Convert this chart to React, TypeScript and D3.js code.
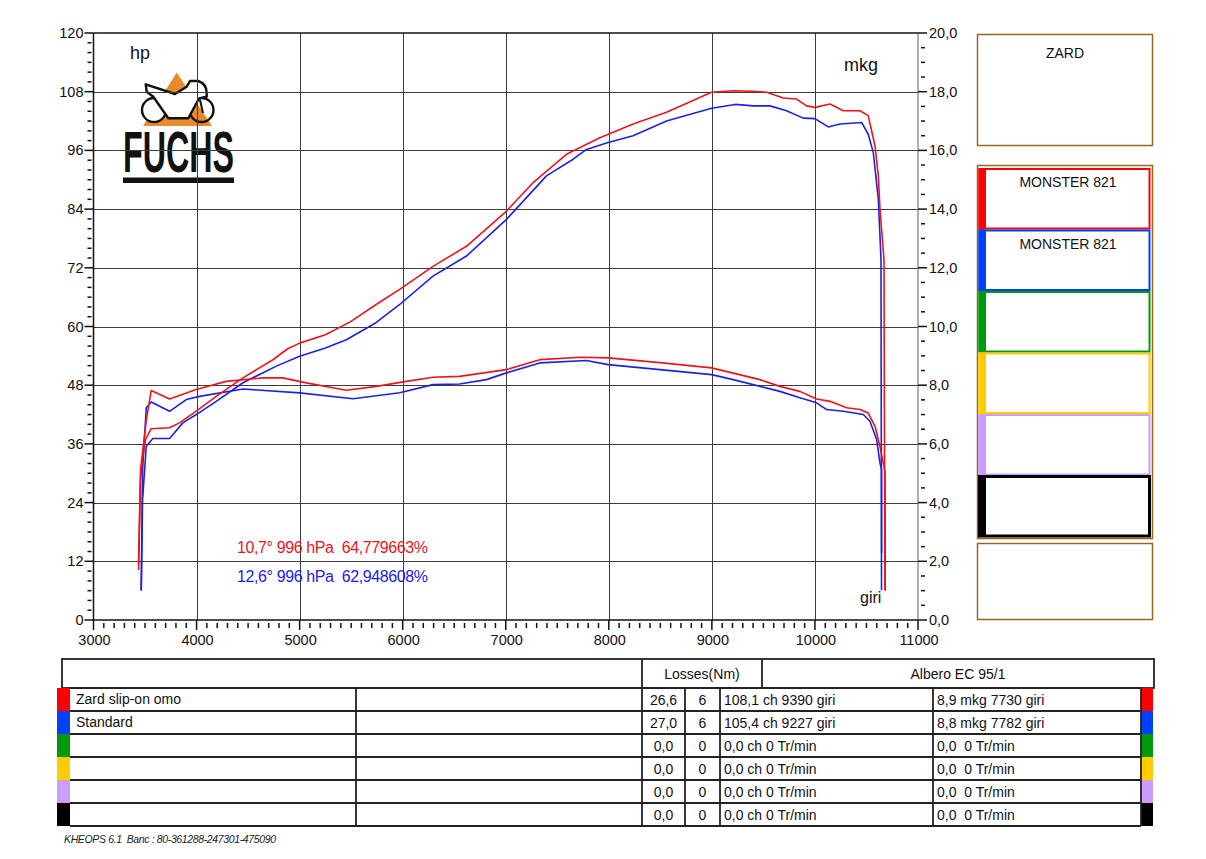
import React from 'react';
import * as d3 from 'd3';

// power curves, [rpm, hp]
const zardPower: [number, number][] = [
  [3437, 10.2], [3456, 28.7], [3479, 33.4], [3505, 36.9], [3560, 39.1], [3738, 39.3],
  [3835, 40.3], [3997, 42.7], [4191, 45.7], [4450, 49.5], [4741, 53.2], [4880, 55.4],
  [5000, 56.6], [5250, 58.3], [5495, 61.0], [5750, 64.6], [5971, 67.6], [6294, 72.3],
  [6619, 76.4], [7007, 83.6], [7265, 89.4], [7589, 95.2], [7913, 98.6], [8236, 101.4],
  [8560, 103.8], [8997, 107.9], [9207, 108.2], [9390, 108.1], [9531, 107.9], [9692, 106.7],
  [9822, 106.5], [9919, 105.1], [10000, 104.8], [10146, 105.5], [10275, 104.1],
  [10437, 104.1], [10517, 103.1], [10583, 96.9], [10615, 90.8], [10631, 84.0],
  [10670, 73.7], [10675, 34.8], [10680, 6.1],
];
const standardPower: [number, number][] = [
  [3463, 6.1], [3476, 24.6], [3512, 35.5], [3576, 37.1], [3738, 37.1], [3867, 40.3],
  [3997, 42.0], [4191, 44.7], [4450, 48.5], [4774, 51.9], [5000, 53.9], [5250, 55.6],
  [5453, 57.3], [5728, 60.6], [5971, 64.5], [6294, 70.3], [6619, 74.4], [7007, 81.9],
  [7395, 90.8], [7654, 94.2], [7783, 96.2], [7993, 97.6], [8236, 99.0], [8560, 102.0],
  [8997, 104.6], [9227, 105.4], [9401, 105.1], [9563, 105.1], [9725, 104.1], [9886, 102.6],
  [10000, 102.5], [10129, 100.8], [10243, 101.4], [10454, 101.7], [10517, 99.3],
  [10566, 95.6], [10615, 86.0], [10641, 73.7], [10646, 6.1],
];

// torque curves, [rpm, mkg]
const zardTorque: [number, number][] = [
  [3437, 1.9], [3456, 5.1], [3512, 6.8], [3560, 7.82], [3738, 7.53], [3997, 7.85],
  [4288, 8.13], [4644, 8.25], [4838, 8.25], [5065, 8.08], [5453, 7.83], [5745, 7.96],
  [6036, 8.13], [6294, 8.27], [6553, 8.3], [7007, 8.53], [7330, 8.87], [7730, 8.95],
  [7993, 8.93], [8495, 8.77], [8997, 8.59], [9466, 8.19], [9660, 7.96], [9854, 7.79],
  [10016, 7.53], [10146, 7.45], [10308, 7.23], [10437, 7.17], [10517, 7.05],
  [10583, 6.6], [10631, 5.91], [10680, 5.06], [10682, 1.0],
];
const standardTorque: [number, number][] = [
  [3463, 1.0], [3476, 5.1], [3512, 7.23], [3560, 7.43], [3738, 7.11], [3900, 7.51],
  [4029, 7.62], [4450, 7.87], [5000, 7.74], [5518, 7.54], [5971, 7.74], [6294, 8.02],
  [6553, 8.04], [6812, 8.19], [7007, 8.42], [7330, 8.76], [7782, 8.84], [7993, 8.7],
  [8495, 8.53], [8997, 8.36], [9207, 8.19], [9660, 7.79], [9854, 7.57], [10016, 7.4],
  [10113, 7.17], [10275, 7.11], [10469, 7.0], [10534, 6.77], [10599, 6.14],
  [10631, 5.35], [10647, 5.12], [10647, 2.28],
];

const rpmTicks = [3000, 4000, 5000, 6000, 7000, 8000, 9000, 10000, 11000];
const hpTicks = [0, 12, 24, 36, 48, 60, 72, 84, 96, 108, 120];
const mkgTicks = [0, 2, 4, 6, 8, 10, 12, 14, 16, 18, 20];

const rowColors = ['#ff0000', '#0040ff', '#009a10', '#ffcc00', '#cc9cff', '#000000'];
const legendNames = ['MONSTER 821', 'MONSTER 821', '', '', '', ''];
const tableNames = ['Zard slip-on omo', 'Standard', '', '', '', ''];
const tableLosses = ['26,6', '27,0', '0,0', '0,0', '0,0', '0,0'];
const tableGears = ['6', '6', '0', '0', '0', '0'];
const tablePower = ['108,1 ch 9390 giri', '105,4 ch 9227 giri', '0,0 ch 0 Tr/min', '0,0 ch 0 Tr/min', '0,0 ch 0 Tr/min', '0,0 ch 0 Tr/min'];
const tableTorque = ['8,9 mkg 7730 giri', '8,8 mkg 7782 giri', '0,0  0 Tr/min', '0,0  0 Tr/min', '0,0  0 Tr/min', '0,0  0 Tr/min'];

const RED = '#e8161c';
const BLUE = '#1c22e0';
const BROWN = '#9c6422';
const FONT = '"Liberation Sans", Arial, sans-serif';

const App: React.FC = () => {
  const left = 93.5, right = 918, top = 33, bottom = 620;
  const x = d3.scaleLinear().domain([3000, 11000]).range([left, right]);
  const yHp = d3.scaleLinear().domain([0, 120]).range([bottom, top]);
  const yMkg = d3.scaleLinear().domain([0, 20]).range([bottom, top]);

  const hpLine = d3.line<[number, number]>().x(d => x(d[0])).y(d => yHp(d[1]));
  const mkgLine = d3.line<[number, number]>().x(d => x(d[0])).y(d => yMkg(d[1]));

  const rpmMinor = d3.range(3000, 11001, 100).filter(v => v % 1000 !== 0);
  const hpMinor = d3.range(0, 121, 2).filter(v => v % 12 !== 0);
  const mkgMinor = d3.range(0, 20.01, 0.5).filter(v => Math.abs(v / 2 - Math.round(v / 2)) > 0.01);

  const fmt = (v: number) => v.toFixed(1).replace('.', ',');

  // table geometry
  const rowTop = 688, rowH = 23;
  const cols = [70, 356, 642, 685, 720, 933, 1141];

  return (
    <svg width={1206} height={859} style={{ position: 'absolute', left: 0, top: 0, background: '#fff' }} fontFamily={FONT}>
      <rect width={1206} height={859} fill="#fff" />

      {/* logo */}
      <g>
        <polygon points="176.7,72.5 143,126 212,126" fill="#e8892b" />
        <circle cx={154} cy={110} r={12} fill="#fff" stroke="#111" strokeWidth={2.4} />
        <circle cx={201.5} cy={110} r={12} fill="none" stroke="#111" strokeWidth={2.4} />
        <path d="M145.7,84.3 L175,94 L186.7,86.7 L190,81 L198.3,81 Q206.7,84 206.7,93 L206.7,96.7 L199,98.5 L188.3,118.3 L168.3,118.3 L153.3,96.7 L146.7,91.7 Z"
          fill="#fff" stroke="#111" strokeWidth={2.4} strokeLinejoin="round" />
        <line x1={200} y1={100} x2={203} y2={113} stroke="#111" strokeWidth={2} />
        <text x={123} y={172} fontSize={58} fontWeight={900} fill="#111" textLength={111} lengthAdjust="spacingAndGlyphs"
          fontFamily='"Liberation Sans Narrow", "Liberation Sans", sans-serif'>FUCHS</text>
        <rect x={123} y={177.5} width={111} height={5.5} fill="#111" />
      </g>

      {/* grid */}
      <g stroke="#3c3c3c" strokeWidth={1}>
        {rpmTicks.slice(1, -1).map(v => (
          <line key={'gx' + v} x1={Math.round(x(v)) + 0.5} x2={Math.round(x(v)) + 0.5} y1={top} y2={bottom} />
        ))}
        {hpTicks.slice(1, -1).map(v => (
          <line key={'gy' + v} x1={left} x2={right} y1={Math.round(yHp(v)) + 0.5} y2={Math.round(yHp(v)) + 0.5} />
        ))}
      </g>

      {/* frame */}
      <g stroke="#111" strokeWidth={1.5} fill="none">
        <line x1={left} x2={right} y1={top} y2={top} />
        <line x1={left} x2={left} y1={top} y2={bottom} />
        <line x1={left} x2={right} y1={bottom} y2={bottom} />
      </g>
      <line x1={right} x2={right} y1={top} y2={bottom} stroke="#777" strokeWidth={1.2} />

      {/* left axis */}
      <g stroke="#111" strokeWidth={1.5}>
        {hpTicks.map(v => <line key={'lt' + v} x1={left - 9} x2={left} y1={yHp(v)} y2={yHp(v)} />)}
        {hpMinor.map(v => <line key={'lm' + v} x1={left - 6} x2={left - 2} y1={yHp(v)} y2={yHp(v)} />)}
      </g>
      <g fontSize={14.5} fill="#111" textAnchor="end">
        {hpTicks.map(v => <text key={'ll' + v} x={left - 10} y={yHp(v) + 5}>{v}</text>)}
      </g>

      {/* right axis */}
      <g stroke="#111" strokeWidth={1.5}>
        {mkgTicks.map(v => <line key={'rt' + v} x1={right} x2={right + 9} y1={yMkg(v)} y2={yMkg(v)} />)}
        {mkgMinor.map(v => <line key={'rm' + v} x1={right + 3} x2={right + 7} y1={yMkg(v)} y2={yMkg(v)} />)}
      </g>
      <g fontSize={14.5} fill="#111">
        {mkgTicks.map(v => <text key={'rl' + v} x={right + 11} y={yMkg(v) + 5}>{fmt(v)}</text>)}
      </g>

      {/* x axis */}
      <g stroke="#111" strokeWidth={1.5}>
        {rpmTicks.map(v => <line key={'xt' + v} x1={x(v)} x2={x(v)} y1={bottom} y2={bottom + 10} />)}
        {rpmMinor.map(v => <line key={'xm' + v} x1={x(v)} x2={x(v)} y1={bottom + 3} y2={bottom + 8} />)}
      </g>
      <g fontSize={14.5} fill="#111" textAnchor="middle">
        {rpmTicks.map(v => <text key={'xl' + v} x={x(v) + 1} y={bottom + 25}>{v}</text>)}
      </g>

      {/* unit labels */}
      <text x={130} y={59} fontSize={18} fill="#111">hp</text>
      <text x={844} y={71} fontSize={18} fill="#111">mkg</text>
      <text x={860} y={603} fontSize={16} fill="#111">giri</text>

      {/* curves */}
      <g fill="none" strokeWidth={1.6} strokeLinejoin="round">
        <path d={hpLine(standardPower) ?? ''} stroke={BLUE} />
        <path d={mkgLine(standardTorque) ?? ''} stroke={BLUE} />
        <path d={hpLine(zardPower) ?? ''} stroke={RED} />
        <path d={mkgLine(zardTorque) ?? ''} stroke={RED} />
      </g>

      {/* conditions */}
      <text x={237} y={553} fontSize={16} fill={RED} style={{ whiteSpace: 'pre' }} textLength={191}>10,7° 996 hPa  64,779663%</text>
      <text x={237} y={582} fontSize={16} fill={BLUE} style={{ whiteSpace: 'pre' }} textLength={191}>12,6° 996 hPa  62,948608%</text>

      {/* right panel */}
      <rect x={977.5} y={34.5} width={175} height={111} fill="#fff" stroke={BROWN} strokeWidth={1.5} />
      <text x={1065} y={58} fontSize={14} textAnchor="middle" fill="#111">ZARD</text>
      <rect x={977.5} y={165.5} width={175} height={373} fill="#fff" stroke={BROWN} strokeWidth={1.5} />
      {rowColors.map((c, i) => {
        const y0 = 168 + i * 61.5;
        return (
          <g key={'leg' + i}>
            <rect x={979.5} y={y0 + 1} width={170} height={59.5} fill="#fff" stroke={c} strokeWidth={i === 5 ? 3 : 2} />
            <rect x={978.5} y={y0} width={7.5} height={61.5} fill={c} />
            <text x={1068} y={y0 + 19} fontSize={14} textAnchor="middle" fill="#111">{legendNames[i]}</text>
          </g>
        );
      })}
      <rect x={977.5} y={543.5} width={175} height={76} fill="#fff" stroke={BROWN} strokeWidth={1.5} />

      {/* table header */}
      <g stroke="#222" strokeWidth={1.8} fill="none">
        <rect x={62} y={659} width={1092} height={29} />
        <line x1={642} x2={642} y1={659} y2={688} />
        <line x1={762} x2={762} y1={659} y2={688} />
      </g>
      <text x={702} y={679} fontSize={14} textAnchor="middle" fill="#111">Losses(Nm)</text>
      <text x={958} y={679} fontSize={14} textAnchor="middle" fill="#111">Albero EC 95/1</text>

      {/* table rows */}
      {rowColors.map((c, i) => {
        const y0 = rowTop + i * rowH;
        return (
          <g key={'row' + i}>
            <rect x={57} y={y0} width={13} height={rowH} fill={c} />
            <rect x={1141} y={y0} width={12} height={rowH} fill={c} />
            <g stroke="#222" strokeWidth={1.8}>
              <line x1={70} x2={1141} y1={y0 + rowH} y2={y0 + rowH} />
              {i === 0 && <line x1={70} x2={1141} y1={y0} y2={y0} />}
              {cols.slice(1).map(cx => <line key={cx} x1={cx} x2={cx} y1={y0} y2={y0 + rowH} />)}
            </g>
            <text x={76} y={y0 + 16} fontSize={14} fill="#111">{tableNames[i]}</text>
            <text x={663.5} y={y0 + 17} fontSize={14} textAnchor="middle" fill="#111">{tableLosses[i]}</text>
            <text x={702.5} y={y0 + 17} fontSize={14} textAnchor="middle" fill="#111">{tableGears[i]}</text>
            <text x={724} y={y0 + 17} fontSize={14} fill="#111">{tablePower[i]}</text>
            <text x={937} y={y0 + 17} fontSize={14} fill="#111" style={{ whiteSpace: 'pre' }}>{tableTorque[i]}</text>
          </g>
        );
      })}

      <text x={64} y={843} fontSize={10.5} fontStyle="italic" fill="#222" style={{ whiteSpace: 'pre' }} textLength={212}>KHEOPS 6.1  Banc : 80-361288-247301-475090</text>
    </svg>
  );
};

export default App;
